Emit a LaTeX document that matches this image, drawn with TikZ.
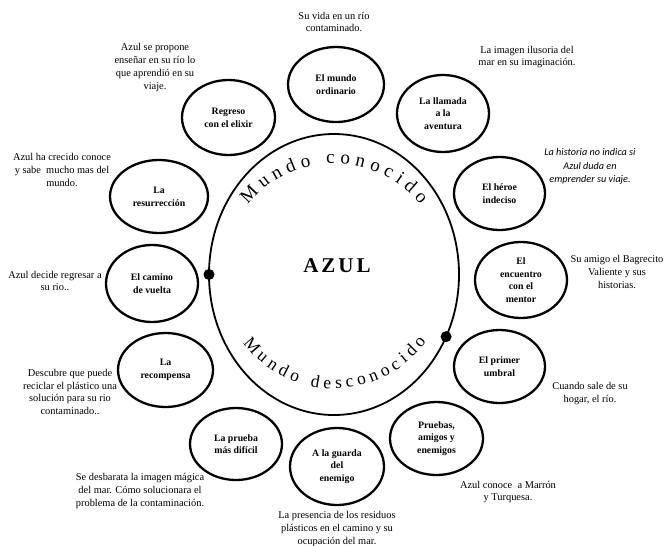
\documentclass[tikz,border=0pt]{standalone}
\usepackage{fontspec}
\setmainfont{Liberation Serif}
\newfontfamily\itfont{Carlito}
\usetikzlibrary{shapes.geometric,decorations.text}
\begin{document}
\begin{tikzpicture}[x=1pt,y=-1pt,
  stage/.style={ellipse, draw, line width=2.3pt, inner sep=0pt, outer sep=0pt, align=center,
    font=\fontsize{9.8}{12.7}\selectfont\bfseries},
  note/.style={align=center, inner sep=0pt, font=\fontsize{10.4}{12.8}\selectfont},
  dot/.style={fill=black}
]
\useasboundingbox (0,0) rectangle (664,546);
\fill[white] (0,0) rectangle (664,546);

% central world
\node[ellipse, draw, line width=1.8pt, minimum width=250pt, minimum height=281pt, inner sep=0pt, outer sep=0pt] (world) at (334,274.5) {};
\node[font=\fontsize{21}{21}\selectfont\bfseries, inner sep=0pt] (azul) at (337,266) {A\kern3pt Z\kern3pt U\kern3pt L};
\path[decorate, decoration={text along path, text align={fit to path},
  text={|\fontsize{19}{19}\selectfont|Mundo conocido}}]
  (334,274.5) ++(-141:111) arc (-141:-39:111);
\path[decorate, decoration={text along path, text align={fit to path},
  text={|\fontsize{17.5}{17.5}\selectfont|Mundo desconocido}}]
  (334,274.5) ++(143:114) arc (143:36:114);
\fill[dot] (world.west) circle (5.5);
\fill[dot] (world.-29) circle (5.5);

% stages
\node[stage, minimum width=96pt, minimum height=75pt] (s1) at (336,84.5) {El mundo\\ordinario};
\node[stage, minimum width=92pt, minimum height=77pt] (s2) at (443,113.5) {La llamada\\a la\\aventura};
\node[stage, minimum width=91pt, minimum height=73pt] (s3) at (499.5,193.5) {El héroe\\indeciso};
\node[stage, minimum width=92pt, minimum height=76pt] (s4) at (521,280) {El\\encuentro\\con el\\mentor};
\node[stage, minimum width=91pt, minimum height=73pt] (s5) at (499.5,366.5) {El primer\\umbral};
\node[stage, minimum width=93pt, minimum height=73pt] (s6) at (436.5,438.5) {Pruebas,\\amigos y\\enemigos};
\node[stage, minimum width=94pt, minimum height=77pt] (s7) at (337,466.5) {A la guarda\\del\\enemigo};
\node[stage, minimum width=92pt, minimum height=72pt] (s8) at (236,444) {La prueba\\más difícil};
\node[stage, minimum width=95pt, minimum height=74pt] (s9) at (165.5,370) {La\\recompensa};
\node[stage, minimum width=92pt, minimum height=77pt] (s10) at (152,283.5) {El camino\\de vuelta};
\node[stage, minimum width=98pt, minimum height=73pt] (s11) at (159,196.5) {La\\resurrección};
\node[stage, minimum width=93pt, minimum height=75pt] (s12) at (228.5,117.5) {Regreso\\con el elixir};

% notes
\node[note] (n1) at (334,22) {Su vida en un río\\contaminado.};
\node[note] (n2) at (155,67.5) {Azul se propone\\enseñar en su río lo\\que aprendió en su\\viaje.};
\node[note] (n3) at (527,57) {La imagen ilusoria del\\mar en su imaginación.};
\node[note, font=\itfont\itshape\fontsize{10.2}{13.5}\selectfont] (n4) at (590,166.5) {La historia no indica si\\Azul duda en\\emprender su viaje.};
\node[note] (n5) at (617,272) {Su amigo el Bagrecito\\Valiente y sus\\historias.};
\node[note] (n6) at (590,393.5) {Cuando sale de su\\hogar, el río.};
\node[note] (n7) at (508,492) {Azul conoce\ \ a Marrón\\y Turquesa.};
\node[note] (n8) at (337,529) {La presencia de los residuos\\plásticos en el camino y su\\ocupación del mar.};
\node[note] (n9) at (140,491) {Se desbarata la imagen mágica\\del mar. Cómo solucionara el\\problema de la contaminación.};
\node[note] (n10) at (70,392) {Descubre que puede\\reciclar el plástico una\\solución para su rio\\contaminado..};
\node[note] (n11) at (55,281) {Azul decide regresar a\\su rio..};
\node[note] (n12) at (62,170) {Azul ha crecido conoce\\y sabe\ \ mucho mas del\\mundo.};
\end{tikzpicture}
\end{document}
